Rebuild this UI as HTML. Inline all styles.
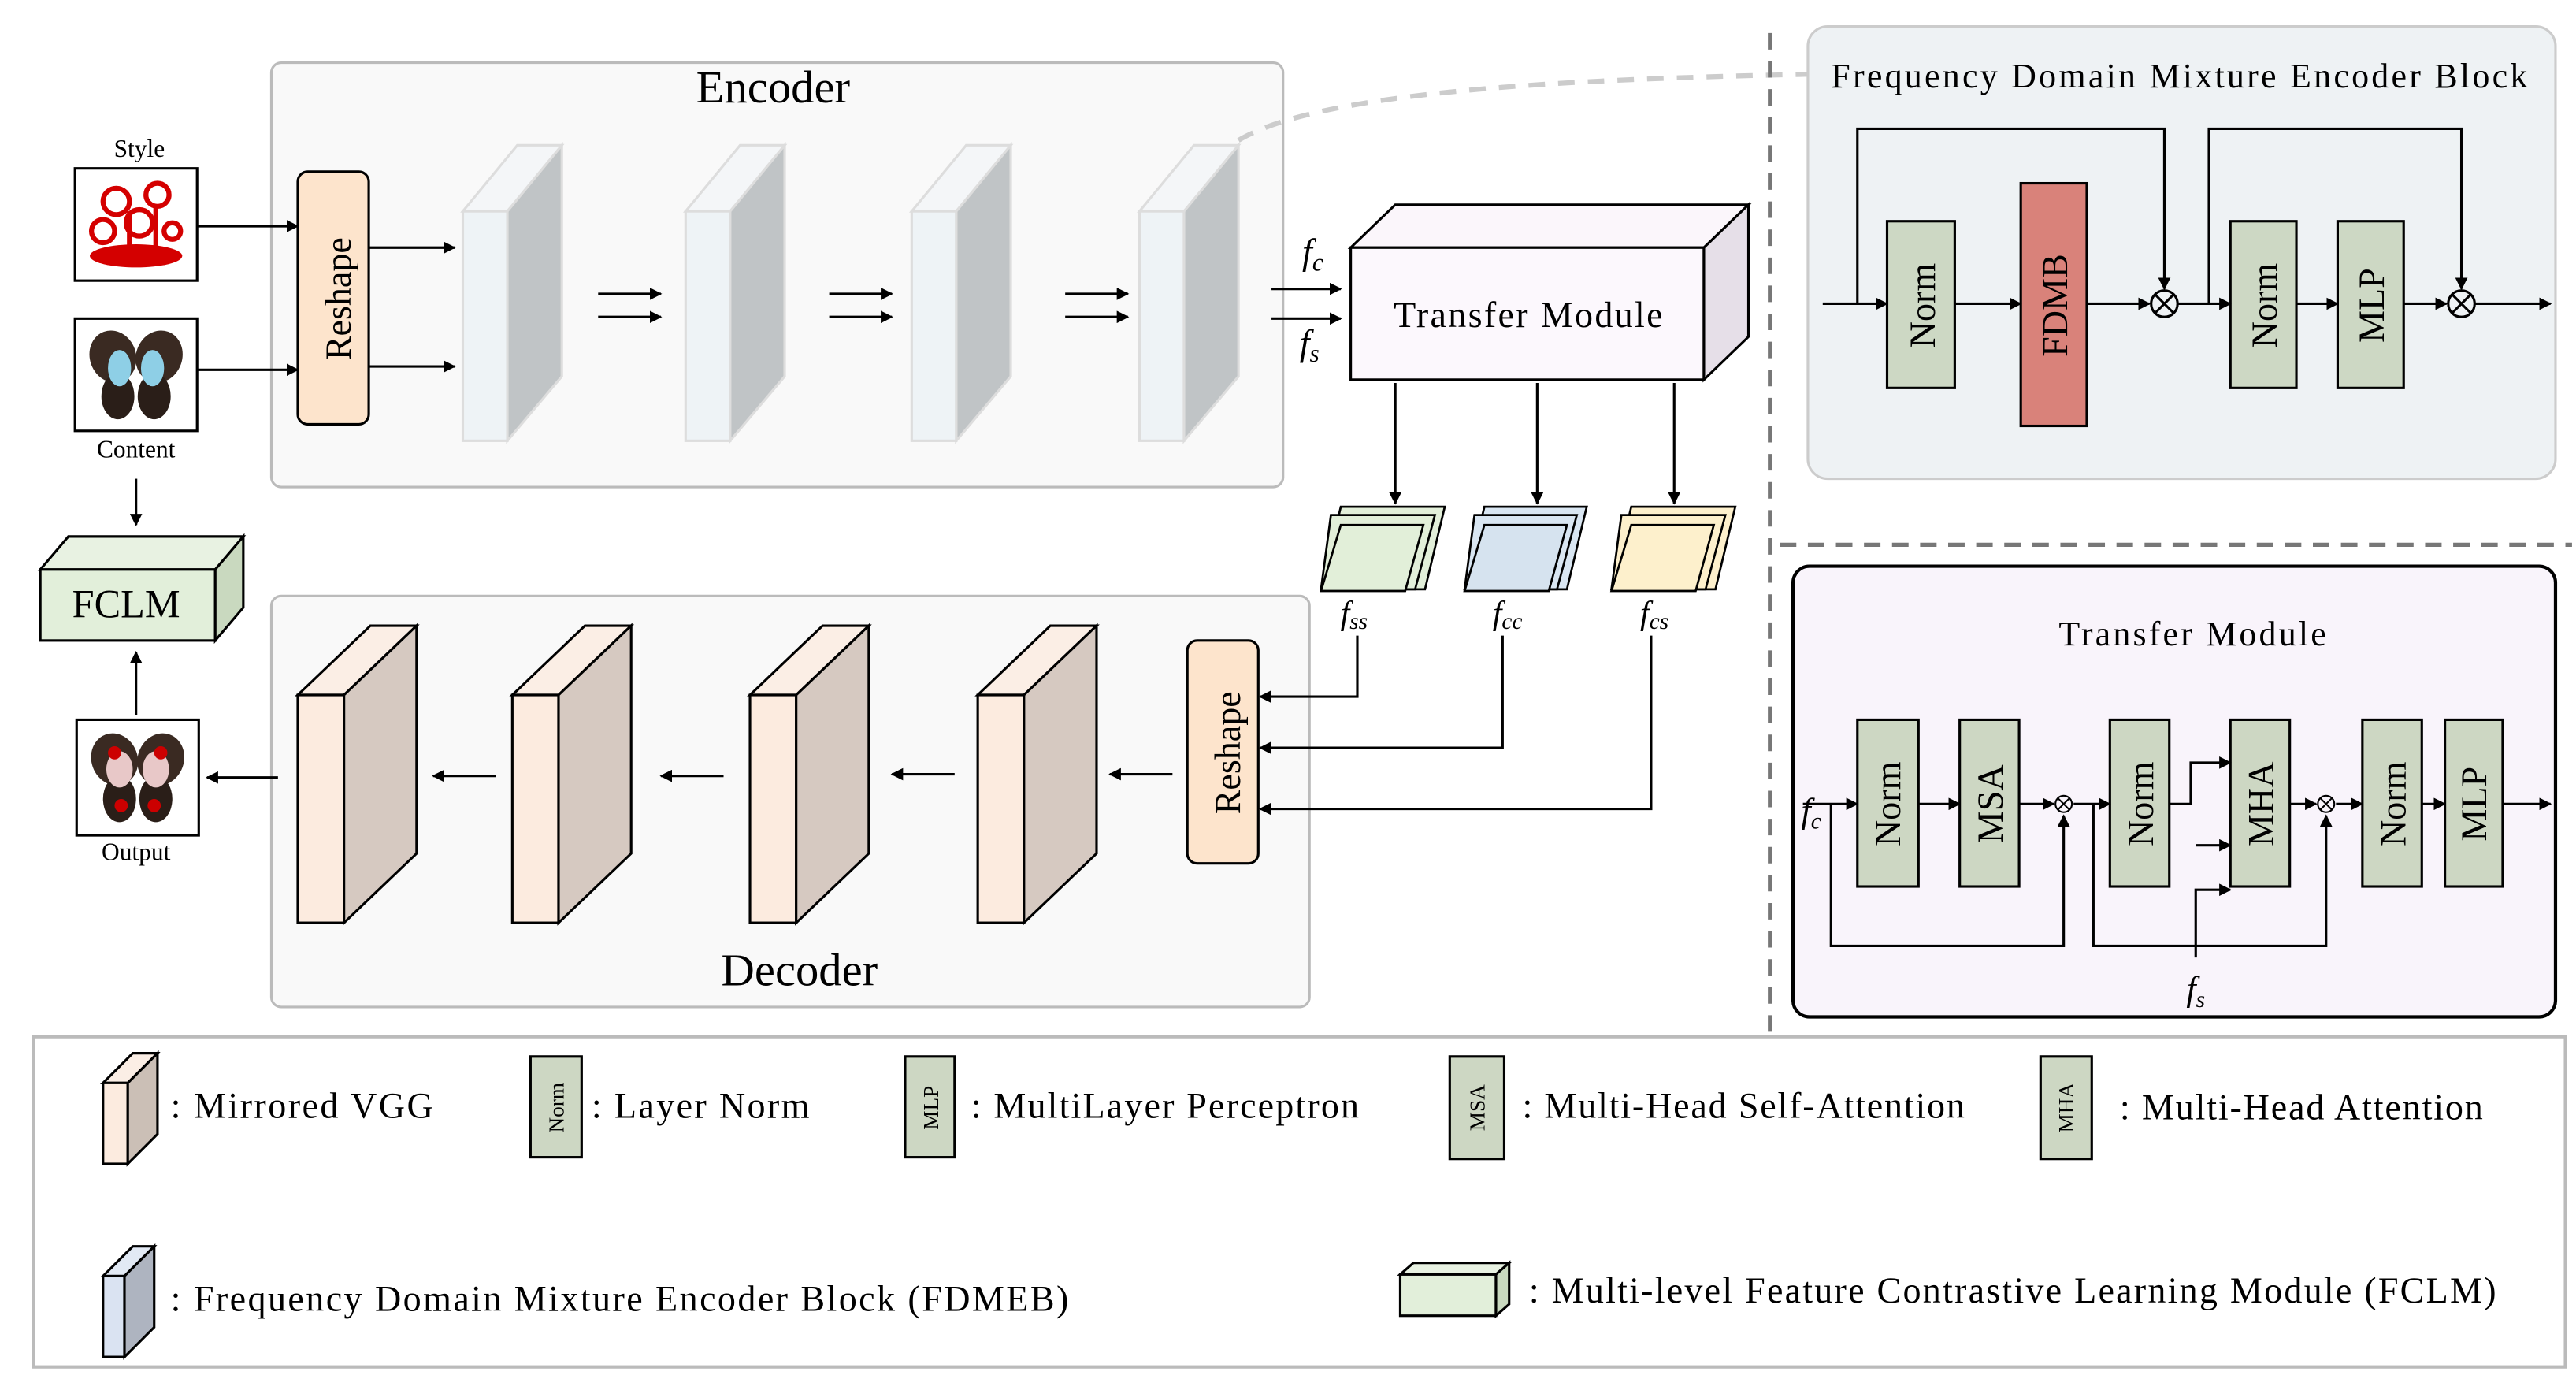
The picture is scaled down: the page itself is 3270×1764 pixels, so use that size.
<!DOCTYPE html>
<html><head><meta charset="utf-8"><style>html,body{margin:0;padding:0;background:#fff}svg{display:block}</style></head>
<body>
<svg width="3270" height="1764" viewBox="0 0 1560 842" xmlns="http://www.w3.org/2000/svg" font-family="Liberation Serif, serif">
<defs>
<marker id="a" viewBox="0 0 10 10" refX="9" refY="5" markerWidth="5" markerHeight="5" orient="auto-start-reverse"><path d="M0,0L10,5L0,10z" fill="#000"/></marker>
<g id="enc"><path d="M0,40 L33,0 L60,0 L27,40z" fill="#f4f6f8" stroke="#ddd" stroke-width="1.5"/><rect x="0" y="40" width="27" height="139" fill="#eef3f6" stroke="#ddd" stroke-width="1.5"/><path d="M27,40 L60,0 L60,140 L27,179z" fill="#c0c4c6" stroke="#ddd" stroke-width="1.5"/></g>
<g id="dec"><path d="M0,42 L44,0 L72,0 L28,42z" fill="#fbeee5" stroke="#000" stroke-width="1.5"/><rect x="0" y="42" width="28" height="138" fill="#fcebdf" stroke="#000" stroke-width="1.5"/><path d="M28,42 L72,0 L72,138 L28,180z" fill="#d6c9c1" stroke="#000" stroke-width="1.5"/></g>
<g id="bfly"><ellipse cx="-14" cy="-10" rx="14" ry="16" fill="#3a2a22" transform="rotate(-20 -14 -10)"/><ellipse cx="14" cy="-10" rx="14" ry="16" fill="#3a2a22" transform="rotate(20 14 -10)"/><ellipse cx="-11" cy="14" rx="10" ry="14" fill="#2a1e18"/><ellipse cx="11" cy="14" rx="10" ry="14" fill="#2a1e18"/></g>
</defs>
<g stroke="#000" stroke-width="1.5" fill="none">
<rect x="164" y="38" width="613" height="257" rx="6" fill="#f9f9f9" stroke="#bbb"/>
<rect x="164" y="361" width="629" height="249" rx="6" fill="#f9f9f9" stroke="#bbb"/>
</g>
<text x="468" y="62" font-size="28" text-anchor="middle">Encoder</text>
<text x="484" y="597" font-size="28" text-anchor="middle">Decoder</text>
<text x="84" y="95" font-size="15" text-anchor="middle">Style</text>
<rect x="45" y="102" width="74" height="68" fill="#fff" stroke="#000" stroke-width="1.5"/>
<g fill="none" stroke="#d40000" stroke-width="3"><circle cx="70" cy="122" r="8"/><circle cx="95" cy="118" r="7"/><circle cx="62" cy="140" r="7"/><circle cx="84" cy="135" r="8"/><circle cx="104" cy="140" r="5"/><path d="M78,128V150M94,125V150"/></g>
<ellipse cx="82" cy="155" rx="28" ry="7" fill="#d40000"/>
<rect x="45" y="193" width="74" height="68" fill="#fff" stroke="#000" stroke-width="1.5"/>
<g transform="translate(82,226)"><use href="#bfly"/><ellipse cx="-10" cy="-3" rx="7" ry="11" fill="#8ecfe6"/><ellipse cx="10" cy="-3" rx="7" ry="11" fill="#8ecfe6"/></g>
<text x="82" y="277" font-size="15" text-anchor="middle">Content</text>
<text x="82" y="521" font-size="15" text-anchor="middle">Output</text>
<rect x="46" y="436" width="74" height="70" fill="#fff" stroke="#000" stroke-width="1.5"/>
<g transform="translate(83,470)"><use href="#bfly"/><ellipse cx="-11" cy="-4" rx="8" ry="11" fill="#e8c8c8"/><ellipse cx="11" cy="-4" rx="8" ry="11" fill="#e8c8c8"/><circle cx="-14" cy="-14" r="4" fill="#c00"/><circle cx="14" cy="-14" r="4" fill="#c00"/><circle cx="-10" cy="18" r="4" fill="#c00"/><circle cx="10" cy="18" r="4" fill="#c00"/></g>
<rect x="180" y="104" width="43" height="153" rx="6" fill="#fde4cc" stroke="#000" stroke-width="1.5"/>
<text transform="translate(212,181) rotate(-90)" font-size="22" text-anchor="middle">Reshape</text>
<rect x="719" y="388" width="43" height="135" rx="6" fill="#fde4cc" stroke="#000" stroke-width="1.5"/>
<text transform="translate(751,456) rotate(-90)" font-size="22" text-anchor="middle">Reshape</text>
<use href="#enc" x="280" y="88"/><use href="#enc" x="415" y="88"/><use href="#enc" x="552" y="88"/><use href="#enc" x="690" y="88"/>
<use href="#dec" x="180" y="379"/><use href="#dec" x="310" y="379"/><use href="#dec" x="454" y="379"/><use href="#dec" x="592" y="379"/>
<g stroke="#000" stroke-width="1.5" fill="none" marker-end="url(#a)">
<path d="M119,137H180"/><path d="M119,224H180"/><path d="M223,150H275"/><path d="M223,222H275"/>
<path d="M362,178H400"/><path d="M362,192H400"/><path d="M502,178H540"/><path d="M502,192H540"/><path d="M645,178H683"/><path d="M645,192H683"/>
<path d="M770,175H812"/><path d="M770,193H812"/>
<path d="M845,232V305"/><path d="M931,232V305"/><path d="M1014,232V305"/>
<path d="M822,385V422H763"/><path d="M910,385V453H763"/><path d="M1000,385V490H763"/>
<path d="M710,469H672"/><path d="M578,469H540"/><path d="M438,470H400"/><path d="M300,470H262"/><path d="M168,471H125"/>
<path d="M82,290V318"/><path d="M82,433V395"/>
</g>
<path d="M750,85 C800,55 950,48 1095,45" stroke="#ccc" stroke-width="3" fill="none" stroke-dasharray="10,8"/>
<text x="795" y="160" font-size="22" font-style="italic" text-anchor="middle">f<tspan font-size="15" dy="4">c</tspan></text>
<text x="793" y="215" font-size="22" font-style="italic" text-anchor="middle">f<tspan font-size="15" dy="4">s</tspan></text>
<g stroke="#000" stroke-width="1.5">
<path d="M818,150 L845,124 L1059,124 L1032,150z" fill="#fbf6fb"/>
<rect x="818" y="150" width="214" height="80" fill="#fcf8fd"/>
<path d="M1032,150 L1059,124 L1059,204 L1032,230z" fill="#e6dfe8"/>
</g>
<text x="844" y="198" font-size="22" textLength="163" lengthAdjust="spacing">Transfer Module</text>
<g stroke="#000" stroke-width="1.3">
<path d="M812,307h63l-12,50h-63z" fill="#e2efd9"/><path d="M806,312h63l-12,45h-57z" fill="#e2efd9"/><path d="M812,318h50l-11,40h-51z" fill="#e2efd9"/>
<path d="M899,307h62l-12,50h-62z" fill="#d9e6f2"/><path d="M893,312h62l-12,45h-56z" fill="#d9e6f2"/><path d="M899,318h50l-11,40h-51z" fill="#d6e3ef"/>
<path d="M988,307h63l-12,50h-63z" fill="#fdf0cc"/><path d="M982,312h63l-12,45h-57z" fill="#fdf0cc"/><path d="M988,318h50l-11,40h-51z" fill="#fdf0cc"/>
</g>
<g font-size="20" font-style="italic" text-anchor="middle">
<text x="820" y="378">f<tspan font-size="14" dy="3">ss</tspan></text>
<text x="913" y="378">f<tspan font-size="14" dy="3">cc</tspan></text>
<text x="1002" y="378">f<tspan font-size="14" dy="3">cs</tspan></text>
</g>
<g stroke="#000" stroke-width="1.5">
<path d="M24,345 L41,325 L147,325 L130,345z" fill="#e8f2e2"/>
<rect x="24" y="345" width="106" height="43" fill="#e2efda"/>
<path d="M130,345 L147,325 L147,368 L130,388z" fill="#c9d9bf"/>
</g>
<text x="76" y="374" font-size="24" text-anchor="middle">FCLM</text>
<path d="M1072,20V625" stroke="#777" stroke-width="2.5" stroke-dasharray="10,7"/>
<path d="M1078,330H1558" stroke="#777" stroke-width="2.5" stroke-dasharray="10,7"/>
<rect x="1095" y="16" width="453" height="274" rx="12" fill="#eef2f4" stroke="#ccc" stroke-width="1.5"/>
<text x="1109" y="53" font-size="21" textLength="422" lengthAdjust="spacing">Frequency Domain Mixture Encoder Block</text>
<g stroke="#000" stroke-width="1.5">
<rect x="1143" y="134" width="41" height="101" fill="#cdd8c4"/>
<rect x="1224" y="111" width="40" height="147" fill="#d9827a"/>
<rect x="1351" y="134" width="40" height="101" fill="#cdd8c4"/>
<rect x="1416" y="134" width="40" height="101" fill="#cdd8c4"/>
</g>
<g font-size="22" text-anchor="middle">
<text transform="translate(1172,185) rotate(-90)">Norm</text>
<text transform="translate(1252,185) rotate(-90)">FDMB</text>
<text transform="translate(1379,185) rotate(-90)">Norm</text>
<text transform="translate(1444,185) rotate(-90)">MLP</text>
</g>
<g stroke="#000" stroke-width="1.5" fill="none">
<circle cx="1311" cy="184" r="8"/><path d="M1305,178l12,12M1317,178l-12,12"/>
<circle cx="1491" cy="184" r="8"/><path d="M1485,178l12,12M1497,178l-12,12"/>
</g>
<g stroke="#000" stroke-width="1.5" fill="none" marker-end="url(#a)">
<path d="M1104,184H1143"/><path d="M1184,184H1224"/><path d="M1264,184H1302"/><path d="M1319,184H1351"/><path d="M1391,184H1416"/><path d="M1456,184H1482"/><path d="M1499,184H1545"/>
<path d="M1125,184V78H1311V175"/><path d="M1338,184V78H1491V175"/>
</g>
<rect x="1086" y="343" width="462" height="273" rx="10" fill="#f9f4fb" stroke="#000" stroke-width="2"/>
<text x="1247" y="391" font-size="21" textLength="162" lengthAdjust="spacing">Transfer Module</text>
<g stroke="#000" stroke-width="1.5" fill="#cdd7c3">
<rect x="1125" y="436" width="37" height="101"/><rect x="1187" y="436" width="36" height="101"/>
<rect x="1278" y="436" width="36" height="101"/><rect x="1351" y="436" width="36" height="101"/>
<rect x="1431" y="436" width="36" height="101"/><rect x="1481" y="436" width="35" height="101"/>
</g>
<g font-size="22" text-anchor="middle">
<text transform="translate(1151,487) rotate(-90)">Norm</text>
<text transform="translate(1213,487) rotate(-90)">MSA</text>
<text transform="translate(1304,487) rotate(-90)">Norm</text>
<text transform="translate(1377,487) rotate(-90)">MHA</text>
<text transform="translate(1457,487) rotate(-90)">Norm</text>
<text transform="translate(1506,487) rotate(-90)">MLP</text>
</g>
<g stroke="#000" stroke-width="1" fill="none">
<circle cx="1250" cy="487" r="5"/><path d="M1246.5,483.5l7,7M1253.5,483.5l-7,7"/>
<circle cx="1409" cy="487" r="5"/><path d="M1405.5,483.5l7,7M1412.5,483.5l-7,7"/>
</g>
<g stroke="#000" stroke-width="1.5" fill="none" marker-end="url(#a)">
<path d="M1092,487H1125"/><path d="M1162,487H1187"/><path d="M1223,487H1244"/><path d="M1256,487H1278"/>
<path d="M1314,487H1327V462H1351"/><path d="M1330,580V539H1351"/><path d="M1330,512H1351"/>
<path d="M1387,487H1403"/><path d="M1415,487H1431"/><path d="M1467,487H1481"/><path d="M1516,487H1545"/>
<path d="M1109,487V573H1250V494"/><path d="M1268,487V573H1409V494"/>
</g>
<text x="1097" y="498" font-size="21" font-style="italic" text-anchor="middle">f<tspan font-size="14" dy="4">c</tspan></text>
<text x="1330" y="606" font-size="21" font-style="italic" text-anchor="middle">f<tspan font-size="14" dy="4">s</tspan></text>
<rect x="20" y="628" width="1534" height="200" fill="#fff" stroke="#bbb" stroke-width="2"/>
<g stroke="#000" stroke-width="1.5">
<path d="M62,656 L80,638 L95,638 L77,656z" fill="#fbeee5"/><rect x="62" y="656" width="15" height="49" fill="#fcebdf"/><path d="M77,656 L95,638 L95,687 L77,705z" fill="#cbbfb6"/>
<path d="M62,773 L80,755 L93,755 L75,773z" fill="#e2e9f4"/><rect x="62" y="773" width="13" height="49" fill="#dae3f2"/><path d="M75,773 L93,755 L93,804 L75,822z" fill="#aeb4c0"/>
<path d="M848,772 L856,765 L914,765 L906,772z" fill="#e8f2e2"/><rect x="848" y="772" width="58" height="25" fill="#e2efda"/><path d="M906,772 L914,765 L914,790 L906,797z" fill="#c9d9bf"/>
</g>
<g stroke="#000" stroke-width="1.5" fill="#cdd7c3">
<rect x="321" y="640" width="31" height="61"/><rect x="548" y="640" width="30" height="61"/>
<rect x="878" y="640" width="33" height="62"/><rect x="1236" y="640" width="31" height="62"/>
</g>
<g font-size="13" text-anchor="middle">
<text transform="translate(341,671) rotate(-90)">Norm</text>
<text transform="translate(568,671) rotate(-90)">MLP</text>
<text transform="translate(899,671) rotate(-90)">MSA</text>
<text transform="translate(1256,671) rotate(-90)">MHA</text>
</g>
<g font-size="22" lengthAdjust="spacing">
<text x="103" y="677" textLength="159">: Mirrored VGG</text>
<text x="358" y="677" textLength="132">: Layer Norm</text>
<text x="588" y="677" textLength="235">: MultiLayer  Perceptron</text>
<text x="922" y="677" textLength="268">: Multi-Head Self-Attention</text>
<text x="1284" y="678" textLength="220">: Multi-Head Attention</text>
<text x="103" y="794" textLength="544">: Frequency Domain Mixture Encoder Block (FDMEB)</text>
<text x="926" y="789" textLength="586">: Multi-level  Feature Contrastive Learning Module (FCLM)</text>
</g>
</svg>
</body></html>
